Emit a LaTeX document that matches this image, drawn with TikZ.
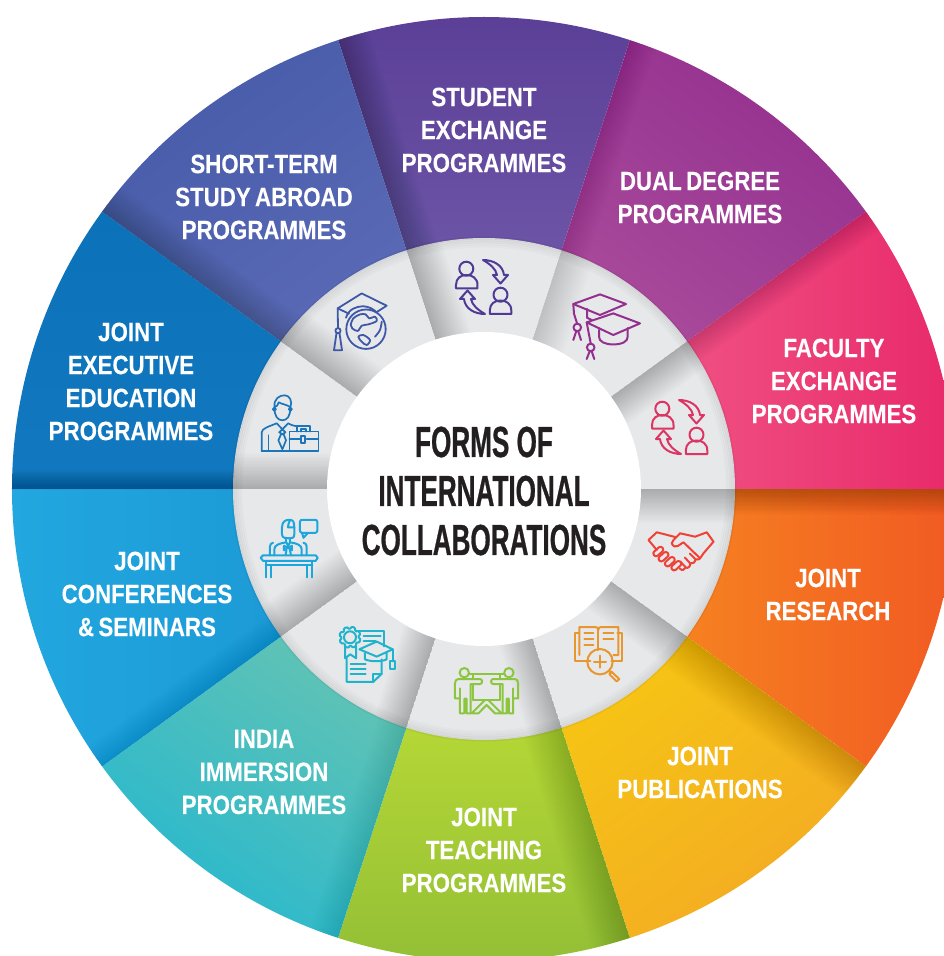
\documentclass[tikz,border=0pt]{standalone}
\usepackage{fontspec}
\setmainfont{Liberation Sans}
\newfontfamily\lblfont[FakeStretch=0.84,WordSpace=0.7,FakeBold=0.12]{Liberation Sans Bold}
\newfontfamily\ttlfont[FakeStretch=0.60,FakeBold=0.6]{Liberation Sans Bold}
\definecolor{tShort}{HTML}{465BA8}\definecolor{bShort}{HTML}{5A69B6}
\definecolor{tStud}{HTML}{5B3F97}\definecolor{bStud}{HTML}{6C54A6}
\definecolor{tDual}{HTML}{93308F}\definecolor{bDual}{HTML}{A94A9B}
\definecolor{tFac}{HTML}{F05083}\definecolor{bFac}{HTML}{E8296A}
\definecolor{tRes}{HTML}{F68121}\definecolor{bRes}{HTML}{F15A22}
\definecolor{tPub}{HTML}{F6C514}\definecolor{bPub}{HTML}{F3AA24}
\definecolor{tTea}{HTML}{B5D736}\definecolor{bTea}{HTML}{93BF36}
\definecolor{tInd}{HTML}{62C3B4}\definecolor{bInd}{HTML}{26B8CF}
\definecolor{tConf}{HTML}{22A7DF}\definecolor{bConf}{HTML}{1C9AD6}
\definecolor{tExe}{HTML}{0B72BA}\definecolor{bExe}{HTML}{1279C0}
\definecolor{ringc}{HTML}{E7E8EA}
\definecolor{icStud}{HTML}{4F3A96}\definecolor{icFac}{HTML}{DC3563}
\definecolor{icDual}{HTML}{93308F}\definecolor{icGlobe}{HTML}{3E58A8}
\definecolor{icMan}{HTML}{1B75BB}\definecolor{icConf}{HTML}{1BA7DD}
\definecolor{icCert}{HTML}{1FB3CC}\definecolor{icTeach}{HTML}{8CC63F}
\definecolor{icBook}{HTML}{E8962E}\definecolor{icHand}{HTML}{EF4136}
\definecolor{ttlc}{HTML}{231F20}
\tikzset{
  lbl/.style={text=white,align=center,font=\lblfont\fontsize{26.5}{33}\selectfont,inner sep=0pt},
  ttl/.style={text=ttlc,align=center,font=\ttlfont\fontsize{43.5}{49}\selectfont,inner sep=0pt},
  ico/.style={line width=2pt,line join=round,line cap=round,draw=#1,fill=none},
}
\newcommand\secpath[3]{(#1:#2) arc[start angle=#1,delta angle=36,radius=#2] -- ({#1+36}:#3) arc[start angle={#1+36},delta angle=-36,radius=#3] -- cycle}
% start angle, top colour, bottom colour, shading angle, shadow layer opacity, shadow width
\newcommand\wseg[6]{%
  \shade[top color=#2,bottom color=#3,shading angle=#4] \secpath{#1}{472}{248};
  \begin{scope}
    \clip \secpath{#1}{472}{248};
    \begin{scope}[rotate={#1+36}]
      \foreach \k in {1,...,20}{\fill[black,fill opacity=#5] (0,0) rectangle (500,{-#6*\k/20});}
    \end{scope}
  \end{scope}}
\newcommand\rseg[3]{%
  \fill[ringc] \secpath{#1}{251}{150};
  \begin{scope}
    \clip \secpath{#1}{251}{150};
    \begin{scope}[rotate={#1+36}]
      \foreach \k in {1,...,20}{\fill[black,fill opacity=#2] (0,0) rectangle (500,{-#3*\k/20});}
    \end{scope}
  \end{scope}}
\newcommand\xchgicon[1]{%
  \draw[ico=#1] (-16.7,-18.3) circle (7);
  \draw[ico=#1] (-27,1.5) -- (-27,-2) .. controls (-27,-9) and (-22,-12) .. (-16.5,-12) .. controls (-11,-12) and (-5.5,-9) .. (-5.5,-2) -- (-5.5,1.5) -- cycle;
  \draw[ico=#1] (17.5,7.7) circle (7);
  \draw[ico=#1] (6.8,27) -- (6.8,23.5) .. controls (6.8,16.5) and (12,13.5) .. (17.5,13.5) .. controls (23,13.5) and (28.3,16.5) .. (28.3,23.5) -- (28.3,27) -- cycle;
  \draw[ico=#1] (0,-27) .. controls (10,-27) and (20,-22) .. (21,-12) -- (25,-12) -- (17.5,-3.5) -- (10,-12) -- (14,-12) .. controls (13,-18) and (7,-23) .. (0,-27) -- cycle;
  \draw[ico=#1] (2,27) .. controls (-8,27) and (-18,22) .. (-19,12) -- (-23,12) -- (-15.5,3.5) -- (-8,12) -- (-12,12) .. controls (-11,18) and (-5,23) .. (2,27) -- cycle;
}
\newcommand\teachperson{%
  \draw (-23,-19) circle (4.7);
  \draw (-32.3,6.7) -- (-32.3,-8.3) .. controls (-32.3,-11) and (-31,-12.7) .. (-29,-12.7) -- (-7.3,-12.7) .. controls (-4.5,-12.7) and (-4.5,-7.7) .. (-7.3,-7.7) -- (-16.7,-7.7) -- (-16.7,21.7) -- (-20.7,21.7) -- (-20.7,7) -- (-23,7) -- (-23,21.7) -- (-27.3,21.7) -- (-27.3,6.7) -- cycle;
  \draw (-27.3,6.7) -- (-27.3,-3.3);
  \draw (-14,-17.7) -- (-14,-12.7) (-14,-7.7) -- (-14,8.3);
}
\newcommand\capsule[2]{\draw[shift={(#1,#2)},rotate=-42,rounded corners=2.4pt] (-5.6,-2.7) rectangle (5.6,2.7);}
\begin{document}
\begin{tikzpicture}[x=1pt,y=1pt]
\useasboundingbox (-484,-467) rectangle (460,489);
\fill[white] (-484,-467) rectangle (460,489);
% outer wedges
\wseg{72}{tStud}{bStud}{0}{0.013}{32}
\wseg{36}{tDual}{bDual}{324}{0.004}{28}
\wseg{0}{tFac}{bFac}{90}{0.006}{24}
\wseg{-36}{tRes}{bRes}{90}{0.013}{26}
\wseg{-72}{tPub}{bPub}{36}{0.009}{38}
\wseg{-108}{tTea}{bTea}{0}{0.008}{40}
\wseg{-144}{tInd}{bInd}{324}{0.003}{30}
\wseg{180}{tConf}{bConf}{90}{0.003}{25}
\wseg{144}{tExe}{bExe}{0}{0.011}{20}
\wseg{108}{tShort}{bShort}{36}{0.009}{32}
% ring
\foreach \a/\o/\w in {72/0.011/36,36/0.009/34,0/0.010/32,-36/0.010/34,-72/0.010/36,-108/0.011/34,-144/0.011/34,180/0.010/36,144/0.012/36,108/0.011/38}{\rseg{\a}{\o}{\w}}
\foreach \r/\o in {251/0.05,249/0.04,247/0.03,245/0.02,243/0.015}{\draw[black,draw opacity=\o,line width=3pt] (0,0) circle (\r);}
% centre
\fill[white] (0,0) circle (157);
% labels
\node[ttl] (title) at (0,-2) {FORMS OF\\INTERNATIONAL\\COLLABORATIONS};
\node[lbl] (student) at (0,359) {STUDENT\\EXCHANGE\\PROGRAMMES};
\node[lbl] (dual) at (216,291.5) {DUAL DEGREE\\PROGRAMMES};
\node[lbl] (faculty) at (350,108) {FACULTY\\EXCHANGE\\PROGRAMMES};
\node[lbl] (research) at (344,-105.5) {JOINT\\RESEARCH};
\node[lbl] (pubs) at (216,-283.5) {JOINT\\PUBLICATIONS};
\node[lbl] (teaching) at (0,-361) {JOINT\\TEACHING\\PROGRAMMES};
\node[lbl] (india) at (-220,-283) {INDIA\\IMMERSION\\PROGRAMMES};
\node[lbl] (conf) at (-337,-105) {JOINT\\CONFERENCES\\\& SEMINARS};
\node[lbl] (exec) at (-353,107.5) {JOINT\\EXECUTIVE\\EDUCATION\\PROGRAMMES};
\node[lbl] (short) at (-220,292) {SHORT-TERM\\STUDY ABROAD\\PROGRAMMES};
% icons (local frame: y downwards, px)
\begin{scope}[shift={(-1,202)},yscale=-1]\xchgicon{icStud}\end{scope}
\begin{scope}[shift={(195,62)},yscale=-1]\xchgicon{icFac}\end{scope}
% dual degree caps
\begin{scope}[shift={(121,162.3)},yscale=-1]
 \tikzset{every path/.style={ico=icDual}}
 \draw (-31.7,-22.7) -- (-5,-32.3) -- (21,-22.7) -- (-5,-11.7) -- cycle;
 \draw (-18,-17.7) -- (-18,-9) -- (-13,-6.5);
 \draw (-31.7,-22.7) -- (-31,-13) -- (-28,-3.5);
 \draw (-27.7,0.7) circle (3.8);
 \draw (-28.7,4.5) -- (-31.7,13.3) (-26.7,4.5) -- (-24,13.3);
 \draw (-18.3,-4.3) -- (8.3,-13.3) -- (35,-3.3) -- (8.3,8.3) -- cycle;
 \draw (-6,3.3) -- (-6,10) .. controls (-6,15) and (0,17.7) .. (8.3,17.7) .. controls (17,17.7) and (22.7,15) .. (22.7,10) -- (22.7,1.5);
 \draw (-18.3,-4.3) -- (-14.3,16.7);
 \draw (-14.3,20.7) circle (3.8);
 \draw (-15.3,24.5) -- (-18.3,32.3) (-13.3,24.5) -- (-10.7,32.3);
\end{scope}
% globe and cap
\begin{scope}[shift={(-123,167.3)},yscale=-1]
 \tikzset{every path/.style={ico=icGlobe,line width=1.8pt}}
 \draw (5,7.5) circle (19.7);
 \draw (-23.3,-13.3) -- (0.7,-28.3) -- (25.7,-16) -- (15.5,-9.5);
 \draw (-23.3,-13.3) -- (-12,-8);
 \draw (-15,-4) .. controls (-12,-13) and (-5,-15) .. (2,-15.5) .. controls (8,-15) and (12,-13) .. (15.5,-9.5);
 \draw (-23.3,-13.3) -- (-23,6.5);
 \draw (-23,9) circle (2.6);
 \draw (-21.5,11.5) -- (-19,28.5) -- (-27,28.5) -- (-24.5,11.5);
 \draw plot[smooth cycle,tension=0.55] coordinates {(-10.3,3.3) (-7.7,-3.3) (-1,-7.3) (4.7,-7.3) (8.3,-3.3) (14,-5) (15.7,-0.7) (7.3,2.7) (0.7,4) (-3.3,9.3) (-8.7,6.7)};
 \draw plot[smooth cycle,tension=0.55] coordinates {(-2.7,15) (2.3,13.3) (9,18.3) (5.7,23.3) (0.7,20)};
 \draw plot[smooth,tension=0.6] coordinates {(20.7,0) (19,8.3) (14,15)};
\end{scope}
% businessman with briefcase
\begin{scope}[shift={(-194.3,65.7)},yscale=-1]
 \tikzset{every path/.style={ico=icMan,line width=1.7pt}}
 \draw (-15.3,-16) .. controls (-15.3,-7) and (-12,-3) .. (-7.3,-3) .. controls (-2.6,-3) and (0.7,-7) .. (0.7,-16);
 \draw (-15.3,-16) .. controls (-16,-25) and (-10,-28) .. (-5,-28) .. controls (0,-28) and (3,-22) .. (0.7,-16) .. controls (-3,-19) and (-8,-19) .. (-11,-21) .. controls (-11.5,-18) and (-13,-17) .. (-15.3,-16) -- cycle;
 \draw (-15.3,-14) circle (1.6) (0.7,-14) circle (1.6);
 \draw (-28,27.7) -- (-28,9) .. controls (-28,5) and (-20,3) .. (-13,0) -- (-7.3,6) -- (-1.5,0) .. controls (2,2) and (4,2.5) .. (7,3);
 \draw (-28,27.7) -- (-0.3,27.7);
 \draw (-21.3,12) -- (-21.3,27.7);
 \draw (-7.3,6) -- (-10.5,9) -- (-7.3,11) -- (-4.3,9) -- cycle;
 \draw (-8.7,11) -- (-11.3,17) -- (-7.3,26) -- (-3.7,17) -- (-6,11);
 \draw (-0.3,8.3) rectangle (28.7,27.7);
 \draw (-0.3,16) -- (11,16) (17,16) -- (28.7,16);
 \draw (7,8.3) -- (7,2.5) -- (20.3,2.5) -- (20.3,8.3);
 \draw (11,8.3) -- (11,5.5) -- (16.5,5.5) -- (16.5,8.3);
 \draw (11.5,12.5) rectangle (15.5,20);
\end{scope}
% conference speaker
\begin{scope}[shift={(-195,-58.3)},yscale=-1]
 \tikzset{every path/.style={ico=icConf}}
 \draw (-7,-20) -- (-7,-13) .. controls (-7,-9) and (-3,-9) .. (0,-9) .. controls (3,-9) and (5.3,-9) .. (5.3,-13) -- (5.3,-20);
 \draw (-7,-20) .. controls (-7,-26) and (-3,-27.5) .. (0,-27.5) .. controls (4,-27.5) and (5.3,-26) .. (5.3,-20) -- (-1,-20) .. controls (-1,-23) and (0,-25) .. (1,-27);
 \draw[rounded corners=2pt] (11,-27.5) rectangle (28.3,-14.5);
 \draw (13,-14.5) -- (14.5,-9.5) -- (19,-14.5);
 \draw (-2.5,-9) -- (-2.5,-5) (1,-9) -- (1,-5);
 \draw (-14.7,8) -- (-14.7,2) .. controls (-14.7,-2) and (-10,-4) .. (-2.5,-5) -- (-1,-1) -- (1,-5) .. controls (8,-4) and (12.7,-2) .. (12.7,2) -- (12.7,8);
 \draw (-5,-1.5) -- (-1,0.5) -- (3,-1.5) -- (3,3) -- (-1,0.5) -- (-5,3) -- cycle;
 \draw (-2.5,3) -- (-3.5,8) (1,3) -- (2,8);
 \draw (-19,8) -- (-19,-1) .. controls (-19,-3) and (-17.5,-4.5) .. (-16,-4.5);
 \draw (17.7,8) -- (17.7,-1) .. controls (17.7,-3) and (16,-4.5) .. (14.5,-4.5);
 \draw (-26,8) -- (26.7,8) -- (28.7,10.5) -- (26.7,13.5) -- (-26,13.5) -- (-28.3,10.5) -- cycle;
 \draw (-23,13.5) -- (-23,30) (-18.3,18) -- (-18.3,30);
 \draw (17.7,18) -- (17.7,30) (23.3,13.5) -- (23.3,30);
 \draw (-23,18) -- (23.3,18);
\end{scope}
% certificate
\begin{scope}[shift={(-117.3,-165.3)},yscale=-1]
 \tikzset{every path/.style={ico=icCert}}
 \draw (-16.7,-17) circle (6);
 \foreach \q in {0,45,...,315}{\draw ([shift={(-16.7,-17)}]\q:8.5) arc[start angle=\q-70,end angle=\q+110,radius=2.8];}
 \draw (-21.5,-9) -- (-21.5,4) -- (-16.5,0) -- (-10.5,4) -- (-10.5,-8);
 \draw (-10.5,-23.5) -- (17.3,-23.5) -- (17.3,-8);
 \draw (-3,-18) -- (14,-18) (-3,-13.5) -- (9,-13.5);
 \draw (-20,4) -- (-20,27.5) -- (6.7,27.5) -- (15,19.5) -- (15,5);
 \draw (6.7,27.5) -- (6.7,19.5) -- (15,19.5);
 \draw (-16,10) -- (-1,10) (-16,15) -- (-1,15) (-16,20) -- (-1,20);
 \draw (-7.3,-5) -- (10,-12.7) -- (26,-5) -- (10,2.3) -- cycle;
 \draw (-1.7,-1.3) -- (-1.7,5) .. controls (3,7.5) and (16,7.5) .. (20,5) -- (20,-1.7);
 \draw (26,-5) -- (26,7);
 \draw (23.5,7) rectangle (28.3,15);
\end{scope}
% teaching
\begin{scope}[shift={(3.3,-202.7)},yscale=-1]
 \tikzset{every path/.style={ico=icTeach}}
 \draw (-18,-17.7) -- (16.6,-17.7);
 \draw (-14,8.3) -- (12.6,8.3);
 \draw (-2.3,8.3) -- (-15.7,21.7) -- (-9,21.7) -- (-0.7,13.3) -- (7.7,21.7) -- (14.3,21.7) -- (1,8.3);
 \teachperson
 \begin{scope}[shift={(-1.4,0)},xscale=-1]\teachperson\end{scope}
\end{scope}
% book and magnifier
\begin{scope}[shift={(114.3,-165)},yscale=-1]
 \tikzset{every path/.style={ico=icBook}}
 \draw (-19,-21) -- (-23,-21) -- (-23,7) -- (-8,7);
 \draw (19,-21) -- (24,-21) -- (24,7) -- (13,7);
 \draw (-19,1) -- (-19,-27) -- (-3,-27) .. controls (-1,-27) and (0,-26) .. (0,-24) .. controls (0,-26) and (1,-27) .. (3,-27) -- (20,-27) -- (20,1) -- (15,1);
 \draw (0,-24) -- (0,-4);
 \draw (-14,-21.5) -- (-5,-21.5) (-14,-15.5) -- (-5,-15.5) (-14,-9.5) -- (-5,-9.5);
 \draw (5,-21.5) -- (15,-21.5) (5,-15.5) -- (15,-15.5);
 \draw (1.7,7.7) circle (12.7);
 \draw (1.7,1.7) -- (1.7,13.7) (-4.3,7.7) -- (7.7,7.7);
 \draw (11,17) -- (13,19);
 \draw (13,17.5) -- (21,25) -- (18.5,27.5) -- (11,20) -- cycle;
\end{scope}
% handshake
\begin{scope}[shift={(196.8,-62)},yscale=-1]
 \tikzset{every path/.style={ico=icHand}}
 \draw (-24,-1) -- (-32.3,-11) -- (-24,-18.7) -- (-10.7,-15.3) -- (-5.5,-14);
 \draw (32.7,-9.3) -- (26,-18.7) -- (14.3,-14.3) -- (-0.7,-17.7) -- (-7.3,-11) -- (-9,-7.7) .. controls (-8,-4.5) and (-5,-3.5) .. (-3,-5) -- (2.7,-8.7) -- (19.3,7.3);
 \draw (32.7,-9.3) -- (22.7,2.3) (22.7,2.3) -- (19.3,7.3);
 \capsule{-22.5}{0.5}
 \capsule{-17.3}{5.7}
 \capsule{-11}{10.7}
 \capsule{-4.5}{14.7}
 \draw (-1,17.5) .. controls (1,20) and (4,19) .. (5,16.5) .. controls (7,18) and (10,15) .. (9.5,12.5) .. controls (12,13) and (15,11) .. (15,8.5) .. controls (17,9) and (19.5,8) .. (19.3,7.3);
 \draw (5,16.5) -- (-0.5,10.5) (9.5,12.5) -- (4,6.5) (15,8.5) -- (9,2.5);
\end{scope}
\end{tikzpicture}
\end{document}
